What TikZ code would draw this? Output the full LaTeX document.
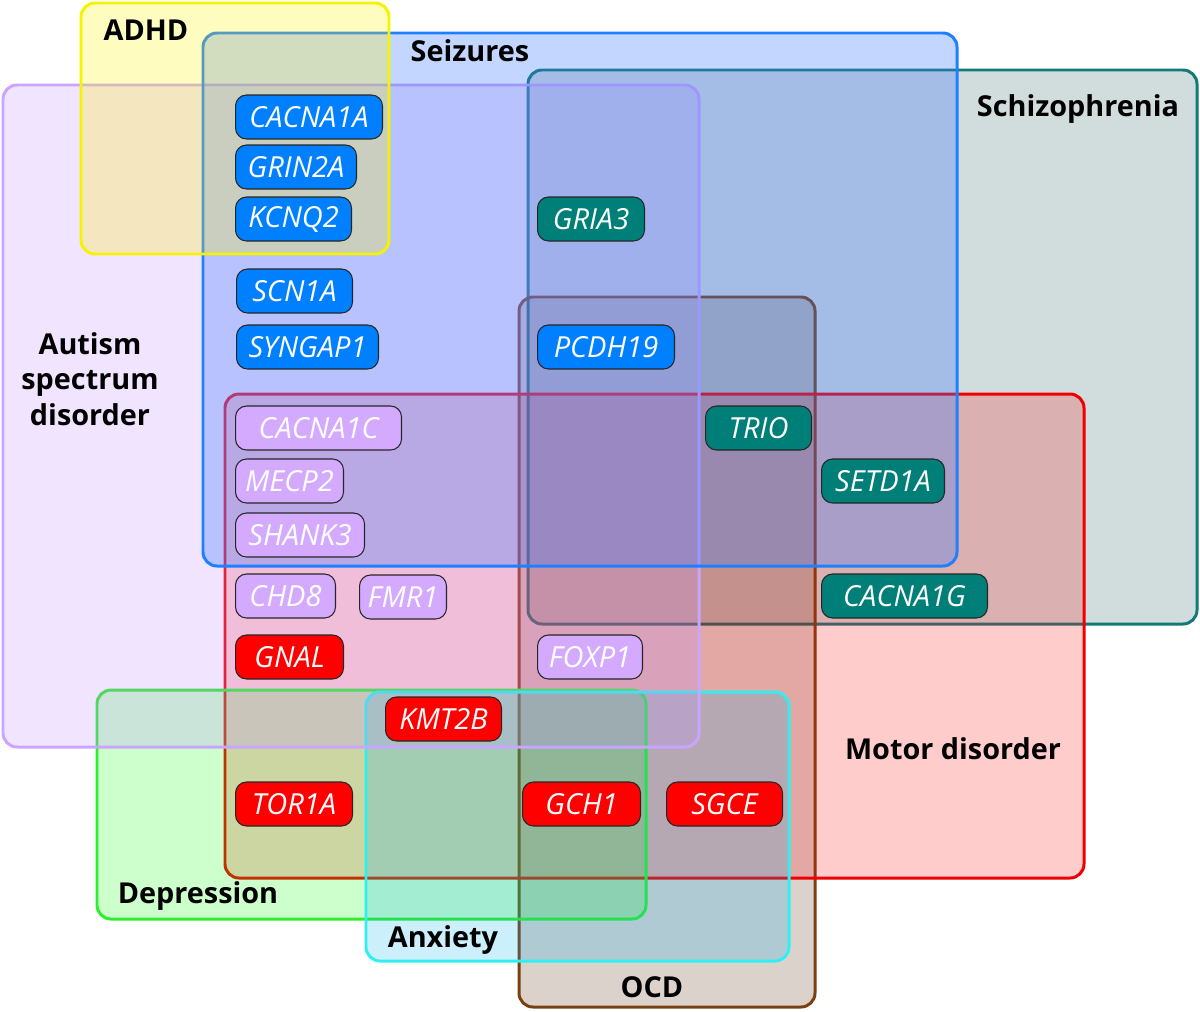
\documentclass[tikz,border=0pt]{standalone}
\usepackage{fontspec}
\setmainfont{Open Sans}
\usepackage{tikz}
\definecolor{adhdline}{HTML}{F4F400}
\definecolor{seizline}{HTML}{1E7FFF}
\definecolor{seizfill}{HTML}{3976FF}
\definecolor{schizline}{HTML}{147A78}
\definecolor{schizfill}{HTML}{1A5050}
\definecolor{autline}{HTML}{C8A6FF}
\definecolor{autfill}{HTML}{C393FF}
\definecolor{motorline}{HTML}{EE0000}
\definecolor{ocdline}{HTML}{7A4012}
\definecolor{ocdfill}{HTML}{501E00}
\definecolor{depline}{HTML}{2EEE2E}
\definecolor{anxline}{HTML}{2EF0F0}
\definecolor{geneblue}{HTML}{0080FF}
\definecolor{geneteal}{HTML}{007F78}
\definecolor{genelilac}{HTML}{D4AAFF}
\definecolor{genered}{HTML}{FF0000}
\tikzset{every node/.append style={font=\rmfamily}}

\begin{document}
\begin{tikzpicture}[x=0.02cm,y=-0.02cm,
  setbox/.style={line width=1.7pt,rounded corners=0.28cm,fill opacity=0.2},
  gene/.style={draw=black!85,line width=0.6pt,rounded corners=0.22cm,
    minimum height=0.88cm,minimum width=#1,inner xsep=0.1cm,inner ysep=0pt,
    anchor=west,text=white,font=\fontsize{16.5}{19}\selectfont\itshape},
  setlabel/.style={font=\fontsize{16.4}{20.2}\selectfont\bfseries,align=center}]
  \useasboundingbox (0,0) rectangle (1200,1011);
  % sets, bottom to top
  \draw[setbox,draw=schizline,fill=schizfill] (528,70) rectangle (1197,624);
  \draw[setbox,draw=ocdline,fill=ocdfill] (519,297) rectangle (815,1007);
  \draw[setbox,draw=motorline,fill=red] (225,394) rectangle (1084,878);
  \draw[setbox,draw=depline,fill=green] (97,690) rectangle (646,919);
  \draw[setbox,draw=anxline,fill=cyan] (366,692) rectangle (789,961);
  \draw[setbox,draw=autline,fill=autfill,fill opacity=0.25] (3,85) rectangle (699,747);
  \draw[setbox,draw=seizline,fill=seizfill,fill opacity=0.3] (203,33) rectangle (957,566);
  \draw[setbox,draw=adhdline,fill=yellow,fill opacity=0.25] (81,3) rectangle (389,254);
  % set names
  \node[setlabel] (adhd) at (146,30) {ADHD};
  \node[setlabel] (seiz) at (470,51) {Seizures};
  \node[setlabel] (schiz) at (1078,109) {Schizophrenia};
  \node[setlabel] (aut) at (90,379) {Autism\\spectrum\\disorder};
  \node[setlabel] (motor) at (953,749) {Motor disorder};
  \node[setlabel] (dep) at (198,896) {Depression};
  \node[setlabel] (anx) at (443,940) {Anxiety};
  \node[setlabel] (ocd) at (652,987) {OCD};
  % genes
  \node[gene=2.94cm,fill=geneblue] (cacna1a) at (235,117) {CACNA1A};
  \node[gene=2.42cm,fill=geneblue] (grin2a) at (235,167) {GRIN2A};
  \node[gene=2.32cm,fill=geneblue] (kcnq2) at (235,219) {KCNQ2};
  \node[gene=2.32cm,fill=geneblue] (scn1a) at (236,291) {SCN1A};
  \node[gene=2.84cm,fill=geneblue] (syngap1) at (236,347) {SYNGAP1};
  \node[gene=2.74cm,fill=geneblue] (pcdh19) at (537,347) {PCDH19};
  \node[gene=2.14cm,fill=geneteal] (gria3) at (537,219) {GRIA3};
  \node[gene=2.12cm,fill=geneteal] (trio) at (705,428) {TRIO};
  \node[gene=2.46cm,fill=geneteal] (setd1a) at (821,481) {SETD1A};
  \node[gene=3.32cm,fill=geneteal] (cacna1g) at (821,596) {CACNA1G};
  \node[gene=3.32cm,fill=genelilac] (cacna1c) at (235,428) {CACNA1C};
  \node[gene=2.16cm,fill=genelilac] (mecp2) at (235,481) {MECP2};
  \node[gene=2.58cm,fill=genelilac] (shank3) at (235,535) {SHANK3};
  \node[gene=2.00cm,fill=genelilac] (chd8) at (235,596) {CHD8};
  \node[gene=1.74cm,fill=genelilac] (fmr1) at (359,597) {FMR1};
  \node[gene=2.10cm,fill=genelilac] (foxp1) at (537,657) {FOXP1};
  \node[gene=2.16cm,fill=genered] (gnal) at (235,657) {GNAL};
  \node[gene=2.32cm,fill=genered] (kmt2b) at (385,719) {KMT2B};
  \node[gene=2.34cm,fill=genered] (tor1a) at (235,804) {TOR1A};
  \node[gene=2.36cm,fill=genered] (gch1) at (522,804) {GCH1};
  \node[gene=2.32cm,fill=genered] (sgce) at (666,804) {SGCE};
\end{tikzpicture}
\end{document}
